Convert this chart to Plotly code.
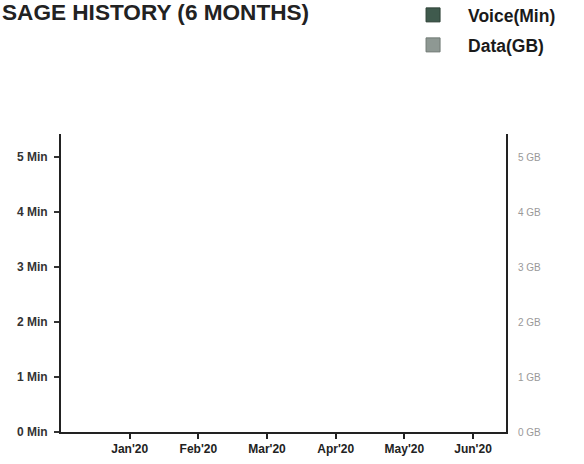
import plotly.graph_objects as go

months = ["Jan'20", "Feb'20", "Mar'20", "Apr'20", "May'20", "Jun'20"]
voice_min = [0, 0, 0, 0, 0, 0]
data_gb = [0, 0, 0, 0, 0, 0]
left_tickvals = [0, 1, 2, 3, 4, 5]
left_ticktext = ["0 Min", "1 Min", "2 Min", "3 Min", "4 Min", "5 Min"]
right_ticktext = ["0 GB", "1 GB", "2 GB", "3 GB", "4 GB", "5 GB"]

VOICE_COLOR = "#3f5a4d"
DATA_COLOR = "#8e9893"
FONT = "Liberation Sans, Arial, sans-serif"

fig = go.Figure()
xs = list(range(len(months)))
fig.add_trace(go.Bar(
    x=xs, y=voice_min, name="Voice(Min)", showlegend=False,
    marker=dict(color=VOICE_COLOR, line=dict(width=0)),
    yaxis="y", offsetgroup="v",
))
fig.add_trace(go.Bar(
    x=xs, y=data_gb, name="Data(GB)", showlegend=False,
    marker=dict(color=DATA_COLOR, line=dict(width=0)),
    yaxis="y2", offsetgroup="d",
))
# legend entries
fig.add_trace(go.Scatter(
    x=[None], y=[None], mode="markers", name="Voice(Min)", legend="legend",
    marker=dict(symbol="square", size=14, color=VOICE_COLOR, line=dict(width=1, color="#2d4036")),
))
fig.add_trace(go.Scatter(
    x=[None], y=[None], mode="markers", name="Data(GB)", legend="legend2",
    marker=dict(symbol="square", size=14, color=DATA_COLOR, line=dict(width=1, color="#6f7874")),
))

legend_common = dict(
    font=dict(family=FONT, size=17.5, color="#1a1a1a", weight="bold"),
    bgcolor="rgba(0,0,0,0)", itemwidth=60, xanchor="left", yanchor="middle",
    xref="container", yref="container", x=0.6816, itemsizing="trace",
)

fig.update_layout(
    width=584, height=464,
    margin=dict(l=61, r=78, t=134, b=32, autoexpand=False),
    paper_bgcolor="white", plot_bgcolor="white",
    showlegend=True,
    barmode="group",
    legend=dict(**legend_common, y=1 - 15 / 464),
    legend2=dict(**legend_common, y=1 - 45 / 464),
    xaxis=dict(
        tickmode="array", tickvals=xs, ticktext=months,
        range=[-1.0, 5.48], showgrid=False, zeroline=False,
        showline=True, linecolor="#222", linewidth=2,
        ticks="outside", ticklen=5, tickcolor="#222", tickwidth=1.5,
        tickfont=dict(family=FONT, size=12, color="#222", weight="bold"),
    ),
    yaxis=dict(
        range=[0, 5.42], tickmode="array", tickvals=left_tickvals, ticktext=left_ticktext,
        showgrid=False, zeroline=False, showline=True, linecolor="#222", linewidth=2,
        ticks="outside", ticklen=5, tickcolor="#333", tickwidth=1.5, ticklabelstandoff=4,
        tickfont=dict(family=FONT, size=12, color="#333", weight="bold"),
    ),
    yaxis2=dict(
        range=[0, 5.42], tickmode="array", tickvals=left_tickvals, ticktext=right_ticktext,
        overlaying="y", side="right", showgrid=False, zeroline=False,
        showline=True, linecolor="#222", linewidth=2, ticks="", ticklabelstandoff=8,
        tickfont=dict(family=FONT, size=10, color="#999"),
    ),
    annotations=[dict(
        text="SAGE HISTORY (6 MONTHS)", xref="paper", yref="paper",
        x=(0 - 61) / 445, y=(432 + 2) / 298, xanchor="left", yanchor="top",
        font=dict(family=FONT, size=22.6, color="#222", weight="bold"),
        showarrow=False,
    )],
)
fig.write_html("out.html", config={"displayModeBar": False},
               post_script="document.body.style.margin='0px';")
